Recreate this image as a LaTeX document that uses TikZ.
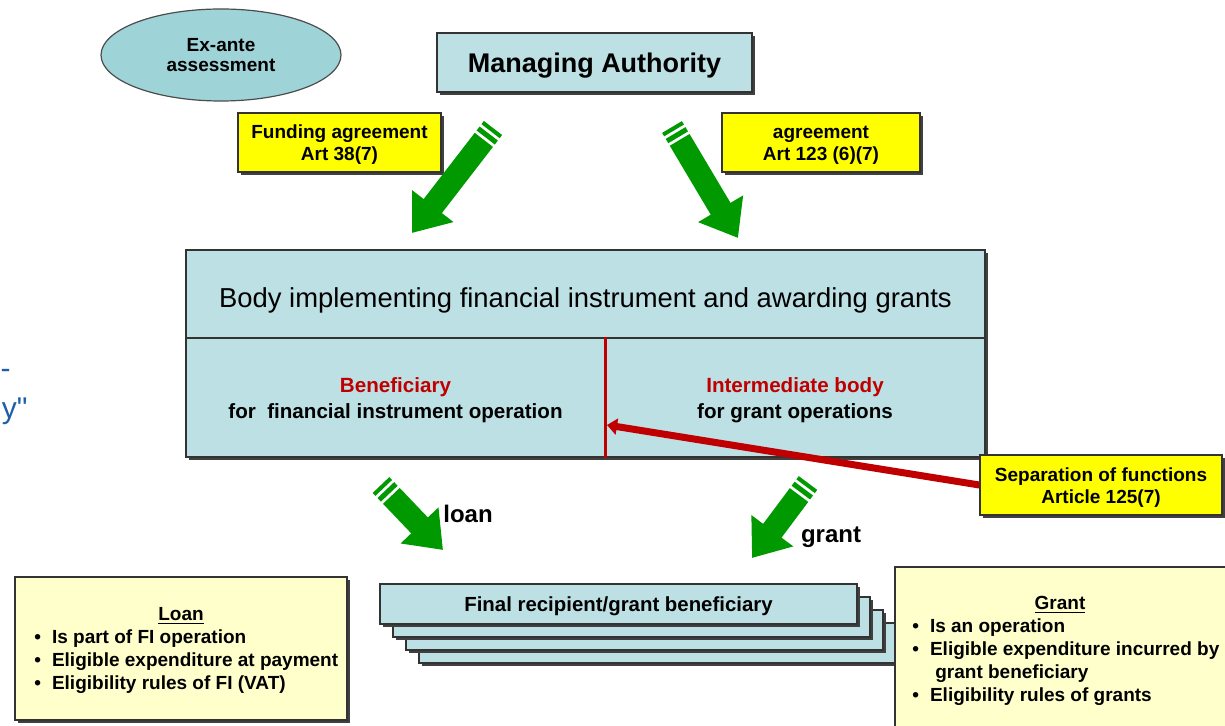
\documentclass[tikz,border=0pt]{standalone}
\usepackage{fontspec}
\setmainfont{Liberation Sans}
\newfontfamily\plainsans[Ligatures=TeXOff]{Liberation Sans}
\usepackage{xcolor}
\usepackage{tikz}
\usetikzlibrary{positioning,calc,shadows,arrows.meta,shapes.geometric}
\definecolor{boxBlue}{RGB}{188,224,228}
\definecolor{ovalBlue}{RGB}{158,211,216}
\definecolor{noteYellow}{RGB}{255,255,0}
\definecolor{paleYellow}{RGB}{255,255,204}
\definecolor{arrowGreen}{RGB}{0,153,0}
\definecolor{sepRed}{RGB}{192,0,0}
\definecolor{textBlue}{RGB}{31,95,168}

\begin{document}
\begin{tikzpicture}[x=0.5pt, y=-0.5pt, auto]
    % Define styles
    \tikzstyle{shade} = [drop shadow={shadow xshift=1.5pt, shadow yshift=-1.5pt, fill=black!75, opacity=1}]
    \tikzstyle{bluebox} = [rectangle, draw=black!80, line width=0.7pt, fill=boxBlue, align=center]
    \tikzstyle{note} = [rectangle, draw=black!80, line width=0.7pt, fill=noteYellow, align=center, shade, text height=20.3pt, font=\fontsize{9.5}{11}\selectfont\bfseries]
    \tikzstyle{listbox} = [rectangle, draw=black!80, line width=0.7pt, fill=paleYellow, shade]
    \tikzstyle{stackbox} = [bluebox, shade, minimum width=238.5pt, minimum height=20pt, text height=9.4pt, font=\fontsize{10.2}{12}\selectfont\bfseries]
    \tikzstyle{cell} = [bluebox, minimum height=59.5pt, text height=23.3pt, font=\fontsize{10.3}{13}\selectfont\bfseries]
    \tikzstyle{smalltext} = [font=\fontsize{9.5}{11.5}\selectfont\bfseries, align=center]
    \tikzstyle{stripe} = [draw=arrowGreen, line width=11.5pt]
    \tikzstyle{fatarrow} = [draw=arrowGreen, line width=11.5pt, -{Triangle[width=25pt,length=17pt]}]
    \tikzstyle{redarrow} = [draw=sepRed, line width=3.5pt, -{Triangle[width=8pt,length=5pt]}]

    \clip (0,0) rectangle (1225,726);

    % Top layer
    \node [ellipse, draw=black!70, line width=0.6pt, fill=ovalBlue, minimum width=120pt, minimum height=46pt, align=center, font=\fontsize{9.5}{10}\selectfont\bfseries] (exante) at (221,55) {Ex-ante\\assessment};
    \node [bluebox, shade, minimum width=157.5pt, minimum height=29.5pt, text height=12.4pt, font=\fontsize{13.5}{16}\selectfont\bfseries] (ma) at (594.5,62.5) {Managing Authority};
    \node [note, minimum width=101.5pt, minimum height=29.5pt] (funding) at (339.5,142.5) {Funding agreement\\Art 38(7)};
    \node [note, minimum width=99pt, minimum height=29.5pt] (agree) at (821,142.5) {agreement\\Art 123 (6)(7)};

    % Implementing body
    \node [bluebox, shade, minimum width=399.5pt, minimum height=103.5pt] (body) at (585.5,353.5) {};
    \node [bluebox, minimum width=399.5pt, minimum height=44pt, text height=16.7pt, font=\fontsize{13.7}{16}\selectfont] (bodytop) at (585.5,294) {Body implementing financial instrument and awarding grants};
    \node [cell, minimum width=209.5pt] (benef) at (395.5,397.5) {\textcolor{sepRed}{Beneficiary}\\for\ \ financial instrument operation};
    \node [cell, minimum width=190pt] (inter) at (795,397.5) {\textcolor{sepRed}{Intermediate body}\\for grant operations};
    \draw [draw=sepRed, line width=1.5pt] (benef.north east) -- (benef.south east);

    % Separation of functions
    \node [note, minimum width=121pt, minimum height=30pt] (sep) at (1101,485) {Separation of functions\\Article 125(7)};
    \coordinate (septip) at (607,425);
    \draw [redarrow] (sep.west) -- (septip);

    % Final recipients
    \foreach \k in {3,2,1}
        \node [stackbox] (stack\k) at ({618.5+13*\k},{604+13*\k}) {};
    \node [stackbox] (final) at (618.5,604) {Final recipient/grant beneficiary};

    % Green arrows
    \coordinate (fundTail) at (493,128);
    \coordinate (fundTip) at (412,233);
    \coordinate (agrTail) at (672,127);
    \coordinate (agrTip) at (738,238);
    \coordinate (loanTail) at (381,485);
    \coordinate (loanTip) at (443,550);
    \coordinate (grantTail) at (808,483);
    \coordinate (grantTip) at (752,558);
    \foreach \a/\b in {fundTail/fundTip, agrTail/agrTip, loanTail/loanTip, grantTail/grantTip} {
        \draw [stripe] (\a) -- ($(\a)!2pt!(\b)$);
        \draw [stripe] ($(\a)!3.5pt!(\b)$) -- ($(\a)!6pt!(\b)$);
        \draw [fatarrow] ($(\a)!7.5pt!(\b)$) -- (\b);
    }
    \node [font=\fontsize{12}{14}\selectfont\bfseries] (loanlbl) at (468,514) {loan};
    \node [font=\fontsize{12}{14}\selectfont\bfseries] (grantlbl) at (831,537) {grant};

    % Loan and grant notes
    \node [listbox, minimum width=166pt, minimum height=71.5pt] (loanbox) at (181,648.5) {};
    \node [smalltext] (loanttl) at (181,616) {\underline{Loan}};
    \node [smalltext, anchor=north west, inner sep=0pt] (loanlist) at (34,627) {\begin{tabular}{@{}l@{\hspace{5.5pt}}l@{}}
        \textbullet & Is part of FI operation\\
        \textbullet & Eligible expenditure at payment\\
        \textbullet & Eligibility rules of FI (VAT)
    \end{tabular}};
    \node [listbox, minimum width=175pt, minimum height=86pt] (grantbox) at (1070,653) {};
    \node [smalltext] (grantttl) at (1060,605) {\underline{Grant}};
    \node [smalltext, anchor=north west, inner sep=0pt] (grantlist) at (912,616) {\begin{tabular}{@{}l@{\hspace{5.5pt}}l@{}}
        \textbullet & Is an operation\\
        \textbullet & Eligible expenditure incurred by\\
         & \ grant beneficiary\\
        \textbullet & Eligibility rules of grants
    \end{tabular}};

    % Cut-off text at left edge
    \node [anchor=base east, inner sep=0pt, text=textBlue, font=\fontsize{15}{17}\plainsans] (cutdash) at (11,379) {-};
    \node [anchor=base east, inner sep=0pt, text=textBlue, font=\fontsize{15}{17}\plainsans] (cuty) at (28,419) {y"};
\end{tikzpicture}
\end{document}
